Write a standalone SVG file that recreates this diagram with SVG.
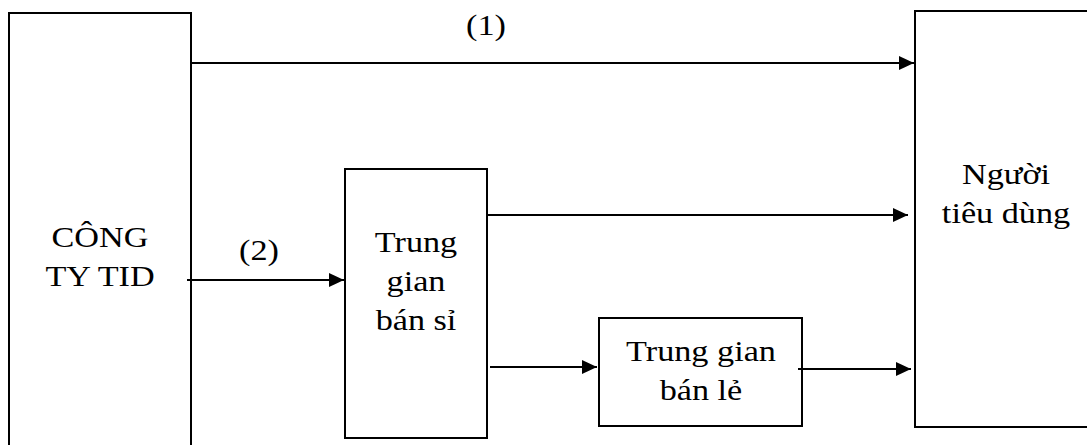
<svg xmlns="http://www.w3.org/2000/svg" width="1087" height="445" viewBox="0 0 1087 445">
  <style>
    .box { fill: #ffffff; stroke: #000000; stroke-width: 2; }
    .conn { stroke: #000000; stroke-width: 2; fill: none; marker-end: url(#arrow); }
    .t { font-family: "Liberation Serif", "Times New Roman", serif; font-size: 29px; fill: #000000; text-anchor: middle; }
  </style>
  <defs>
    <marker id="arrow" markerUnits="userSpaceOnUse" markerWidth="16" markerHeight="14" refX="15" refY="7" orient="auto">
      <path d="M0,0 L15,7 L0,14 Z" fill="#000000"/>
    </marker>
  </defs>

  <g id="node-cong-ty">
    <rect class="box" x="9" y="13" width="182" height="445"/>
    <text class="t" transform="translate(100,247) scale(1.18,1)">CÔNG</text>
    <text class="t" transform="translate(100,286) scale(1.18,1)">TY TID</text>
  </g>

  <g id="node-nguoi-tieu-dung">
    <rect class="box" x="915" y="11" width="190" height="416"/>
    <text class="t" transform="translate(1006,184) scale(1.18,1)">Người</text>
    <text class="t" transform="translate(1006,223) scale(1.18,1)">tiêu dùng</text>
  </g>

  <g id="node-ban-si">
    <rect class="box" x="345" y="169" width="142" height="269"/>
    <text class="t" transform="translate(416,252) scale(1.18,1)">Trung</text>
    <text class="t" transform="translate(416,291) scale(1.18,1)">gian</text>
    <text class="t" transform="translate(416,330) scale(1.18,1)">bán sỉ</text>
  </g>

  <g id="node-ban-le">
    <rect class="box" x="599" y="318" width="203" height="108"/>
    <text class="t" transform="translate(701,361) scale(1.18,1)">Trung gian</text>
    <text class="t" transform="translate(701,400) scale(1.18,1)">bán lẻ</text>
  </g>

  <g id="connectors">
    <line class="conn" x1="191" y1="63" x2="914" y2="63"/>
    <line class="conn" x1="187" y1="280" x2="344" y2="280"/>
    <line class="conn" x1="488" y1="215" x2="908" y2="215"/>
    <line class="conn" x1="490" y1="367" x2="597" y2="367"/>
    <line class="conn" x1="798" y1="369" x2="911" y2="369"/>
    <text class="t" transform="translate(486,35) scale(1.18,1)">(1)</text>
    <text class="t" transform="translate(259,260) scale(1.18,1)">(2)</text>
  </g>
</svg>
